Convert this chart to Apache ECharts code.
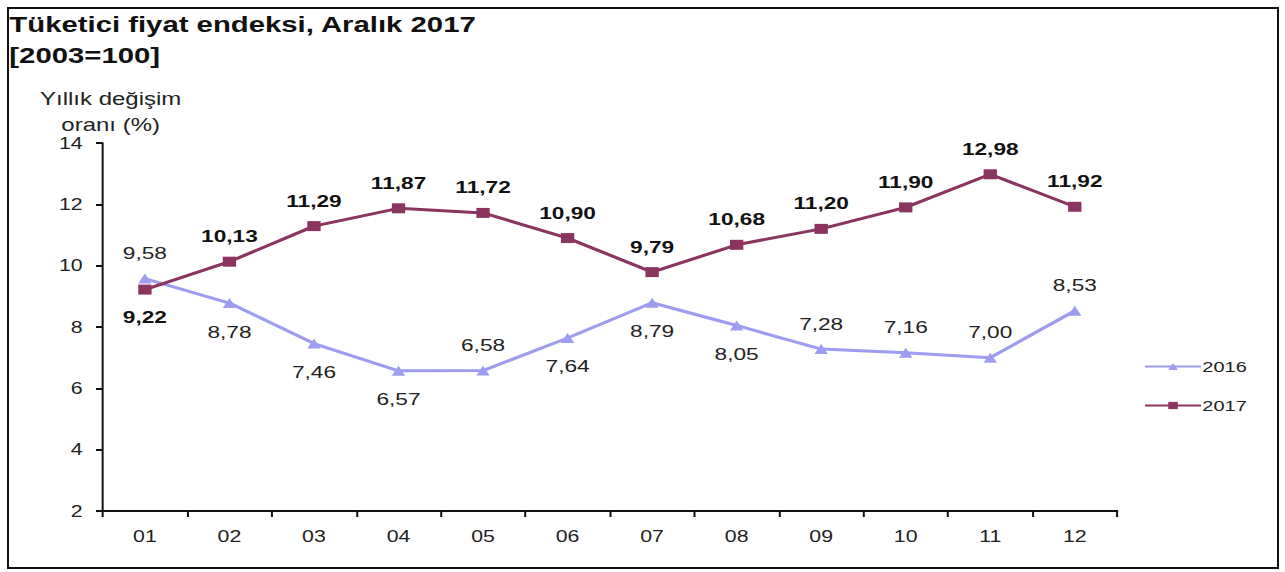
<!DOCTYPE html>
<html>
<head>
<meta charset="utf-8">
<script src="https://cdn.jsdelivr.net/npm/echarts@6/dist/echarts.min.js"></script>
<style>
  html, body { margin: 0; padding: 0; background: #fff; overflow: hidden; }
  #wrap { position: relative; width: 1285px; height: 572px; overflow: hidden; }
  #chart { position: absolute; left: 0; top: 0; width: 964px; height: 572px; transform: scaleX(1.333); transform-origin: 0 0; }
  #frame { position: absolute; left: 7px; top: 7px; width: 1268px; height: 558px; border: 2px solid #111; pointer-events: none; }
</style>
</head>
<body>
<div id="wrap">
  <div id="chart"></div>
  <div id="frame"></div>
</div>
<script>
const categories = ['01', '02', '03', '04', '05', '06', '07', '08', '09', '10', '11', '12'];
const values2016 = [9.58, 8.78, 7.46, 6.57, 6.58, 7.64, 8.79, 8.05, 7.28, 7.16, 7.00, 8.53];
const values2017 = [9.22, 10.13, 11.29, 11.87, 11.72, 10.90, 9.79, 10.68, 11.20, 11.90, 12.98, 11.92];
const yTicks = [2, 4, 6, 8, 10, 12, 14];
const seriesNames = ['2016', '2017'];

const pos2016 = ['top', 'bottom', 'bottom', 'bottom', 'top', 'bottom', 'bottom', 'bottom', 'top', 'top', 'top', 'top'];
const pos2017 = ['bottom', 'top', 'top', 'top', 'top', 'top', 'top', 'top', 'top', 'top', 'top', 'top'];

const fmt = v => v.toFixed(2).replace('.', ',');
const FONT = 'Arial, "Liberation Sans", sans-serif';

const chart = echarts.init(document.getElementById('chart'), null, { renderer: 'svg' });
chart.setOption({
  animation: false,
  textStyle: { fontFamily: FONT },
  graphic: [
    { type: 'text', left: 7, top: 13, style: { text: 'Tüketici fiyat endeksi, Aralık 2017', font: 'bold 22px ' + FONT, fill: '#111' } },
    { type: 'text', left: 7, top: 44, style: { text: '[2003=100]', font: 'bold 22px ' + FONT, fill: '#111' } },
    { type: 'text', x: 83, y: 86, style: { text: 'Yıllık değişim\noranı (%)', font: '18px ' + FONT, fill: '#222', align: 'center', lineHeight: 26 } }
  ],
  grid: { left: 77, right: 126, top: 143, bottom: 61, containLabel: false },
  legend: {
    orient: 'vertical',
    left: 853,
    top: 354,
    itemWidth: 42,
    itemHeight: 9,
    itemGap: 24,
    textStyle: { fontSize: 15, color: '#222', fontFamily: FONT, padding: [0, 0, 0, -4] },
    data: seriesNames
  },
  xAxis: {
    type: 'category',
    data: categories,
    boundaryGap: true,
    axisLine: { lineStyle: { color: '#111', width: 2 } },
    axisTick: { show: true, length: 6, lineStyle: { color: '#111', width: 1.5 } },
    axisLabel: { fontSize: 16, color: '#222', margin: 17, fontFamily: FONT }
  },
  yAxis: {
    type: 'value',
    min: yTicks[0],
    max: yTicks[yTicks.length - 1],
    interval: 2,
    axisLine: { show: true, lineStyle: { color: '#111', width: 1.5 } },
    axisTick: { show: true, length: 5, lineStyle: { color: '#111', width: 2 } },
    splitLine: { show: false },
    axisLabel: { fontSize: 16, color: '#222', margin: 15, fontFamily: FONT }
  },
  series: [
    {
      name: seriesNames[0],
      type: 'line',
      data: values2016.map((v, i) => ({ value: v, label: { position: pos2016[i], distance: pos2016[i] === 'bottom' ? 15 : 12 } })),
      symbol: 'triangle',
      symbolSize: 10,
      itemStyle: { color: '#9d9cf0' },
      lineStyle: { color: '#9d9cf0', width: 3 },
      label: { show: true, formatter: p => fmt(p.value), fontSize: 17, color: '#222', fontFamily: FONT },
      z: 2
    },
    {
      name: seriesNames[1],
      type: 'line',
      data: values2017.map((v, i) => ({ value: v, label: { position: pos2017[i], distance: pos2017[i] === 'bottom' ? 14 : 12 } })),
      symbol: 'rect',
      symbolSize: 10,
      itemStyle: { color: '#8c3460' },
      lineStyle: { color: '#8c3460', width: 3 },
      label: { show: true, formatter: p => fmt(p.value), fontSize: 17, fontWeight: 'bold', color: '#111', fontFamily: FONT },
      z: 3
    }
  ]
});
</script>
</body>
</html>
